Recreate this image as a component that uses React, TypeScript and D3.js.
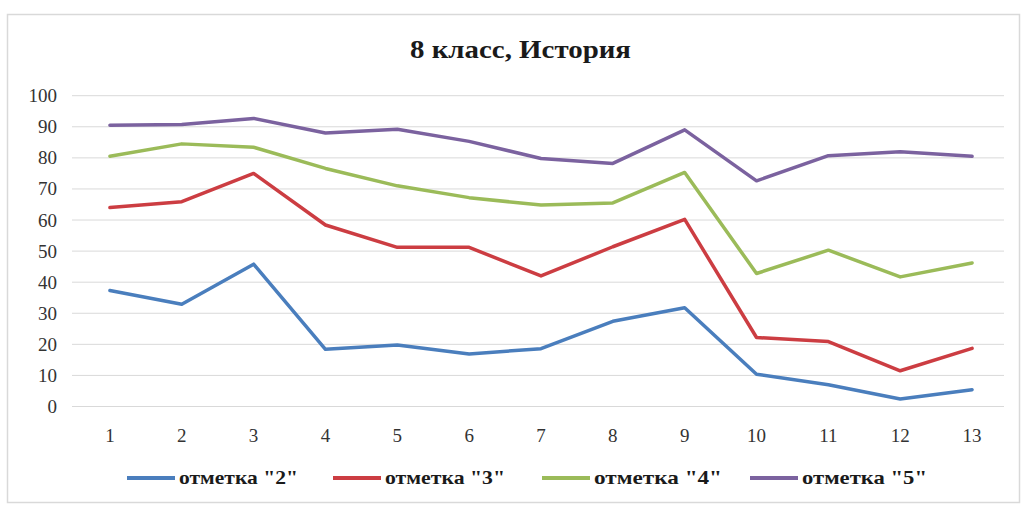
import React from "react";
import * as d3 from "d3";

const categories = ["1", "2", "3", "4", "5", "6", "7", "8", "9", "10", "11", "12", "13"];
const mark2 = [37.3, 32.9, 45.8, 18.4, 19.8, 16.9, 18.6, 27.4, 31.8, 10.4, 7.0, 2.4, 5.4];
const mark3 = [64.0, 65.9, 75.0, 58.4, 51.2, 51.2, 42.0, 51.4, 60.2, 22.2, 20.9, 11.5, 18.7];
const mark4 = [80.5, 84.5, 83.4, 76.6, 71.0, 67.2, 64.8, 65.5, 75.3, 42.8, 50.3, 41.7, 46.2];
const mark5 = [90.5, 90.7, 92.7, 88.0, 89.2, 85.3, 79.8, 78.2, 89.0, 72.6, 80.7, 82.0, 80.5];
const yTicks = [0, 10, 20, 30, 40, 50, 60, 70, 80, 90, 100];
const seriesNames = ['отметка "2"', 'отметка "3"', 'отметка "4"', 'отметка "5"'];
const title = "8 класс, История";

const colors = ["#4a7ebd", "#cc3d42", "#9bbb59", "#7b629f"];

export default function App() {
  const W = 1022, H = 506;
  const x = d3.scalePoint<string>().domain(categories).range([74, 1008]).padding(0.5);
  const y = d3.scaleLinear().domain([0, 100]).range([406.5, 95.7]);
  const data = [mark2, mark3, mark4, mark5];
  const line = d3
    .line<number>()
    .x((_, i) => x(categories[i]) as number)
    .y((d) => y(d));
  const legendX = [127, 333, 542, 750];
  const legendTextW = [119, 120, 128, 125];
  const font = "'Liberation Serif', 'Times New Roman', serif";
  return (
    <svg width={W} height={H} style={{ position: "absolute", left: 0, top: 0, background: "#fff" }}>
      <rect x={0} y={0} width={W} height={H} fill="#fff" />
      <rect x={7.5} y={14.5} width={1012} height={488} fill="#fff" stroke="#d9d9d9" strokeWidth={1.5} />
      <text x={520.5} y={58} textAnchor="middle" fontFamily={font} fontWeight="bold" fontSize={26} fill="#1a1a1a"
        textLength={221} lengthAdjust="spacingAndGlyphs">
        {title}
      </text>
      {yTicks.map((t) => (
        <g key={t}>
          <line x1={72} x2={1004} y1={y(t)} y2={y(t)} stroke="#d9d9d9" strokeWidth={1} />
          <text x={57} y={y(t) + 6.5} textAnchor="end" fontFamily={font} fontSize={19} fill="#333">
            {t}
          </text>
        </g>
      ))}
      {categories.map((c) => (
        <text key={c} x={x(c)} y={442} textAnchor="middle" fontFamily={font} fontSize={19} fill="#333">
          {c}
        </text>
      ))}
      {data.map((s, i) => (
        <path key={i} d={line(s) || ""} fill="none" stroke={colors[i]} strokeWidth={3.5}
          strokeLinejoin="round" strokeLinecap="round" />
      ))}
      {seriesNames.map((n, i) => (
        <g key={n}>
          <line x1={legendX[i]} x2={legendX[i] + 48} y1={478} y2={478} stroke={colors[i]} strokeWidth={4} />
          <text x={legendX[i] + 52} y={484} fontFamily={font} fontWeight="bold" fontSize={19} fill="#1a1a1a"
            textLength={legendTextW[i]} lengthAdjust="spacingAndGlyphs">
            {n}
          </text>
        </g>
      ))}
    </svg>
  );
}
